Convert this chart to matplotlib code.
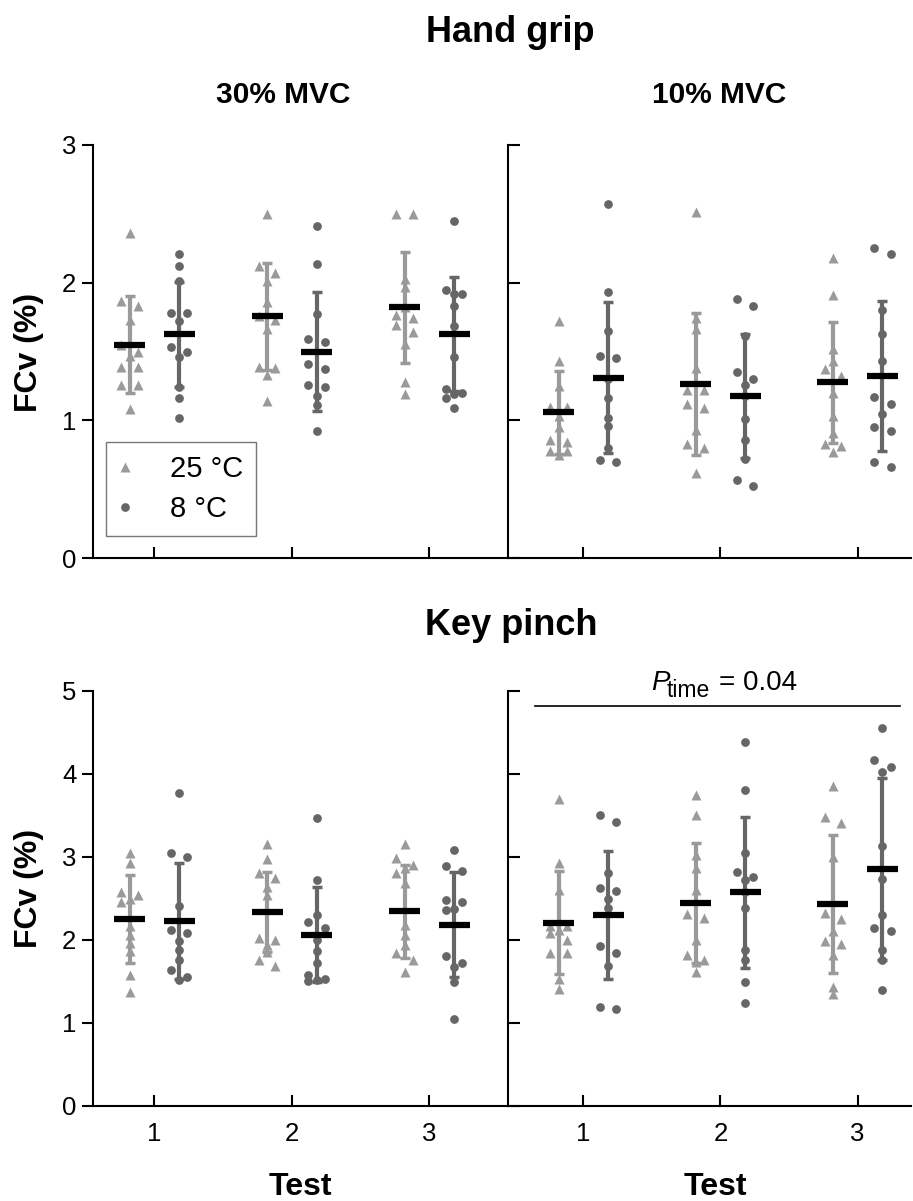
import matplotlib
matplotlib.use("Agg")
import matplotlib.pyplot as plt
from matplotlib.lines import Line2D
import numpy as np

plt.rcParams['font.family'] = ['Liberation Sans', 'DejaVu Sans']

# ---------------- data ----------------
tests = [1, 2, 3]
tick_labels = ['1', '2', '3']
series_labels = ['25 °C', '8 °C']

# Hand grip, 30% MVC
hg30_25 = [[2.36, 1.87, 1.83, 1.73, 1.55, 1.50, 1.47, 1.39, 1.39, 1.26, 1.26, 1.08],
           [2.50, 2.12, 2.07, 2.01, 1.86, 1.76, 1.73, 1.66, 1.39, 1.38, 1.33, 1.14],
           [2.50, 2.50, 2.03, 1.97, 1.82, 1.765, 1.745, 1.69, 1.64, 1.555, 1.28, 1.19]]
hg30_8 = [[2.21, 2.12, 2.01, 1.78, 1.78, 1.72, 1.53, 1.50, 1.46, 1.24, 1.16, 1.02],
          [2.41, 2.135, 1.77, 1.59, 1.57, 1.41, 1.37, 1.26, 1.24, 1.18, 1.11, 0.92],
          [2.45, 1.95, 1.92, 1.915, 1.83, 1.685, 1.46, 1.23, 1.20, 1.19, 1.16, 1.09]]
hg30_25_mean = [1.55, 1.755, 1.82]
hg30_25_sd = [0.355, 0.39, 0.405]
hg30_8_mean = [1.625, 1.50, 1.627]
hg30_8_sd = [0.38, 0.43, 0.415]

# Hand grip, 10% MVC
hg10_25 = [[1.72, 1.43, 1.25, 1.10, 1.10, 1.03, 0.95, 0.86, 0.845, 0.78, 0.78, 0.75],
           [2.51, 1.74, 1.66, 1.38, 1.22, 1.22, 1.12, 1.09, 0.93, 0.83, 0.80, 0.615],
           [2.18, 1.91, 1.52, 1.43, 1.37, 1.32, 1.20, 1.03, 0.91, 0.83, 0.81, 0.77]]
hg10_8 = [[2.57, 1.93, 1.65, 1.47, 1.45, 1.30, 1.16, 1.02, 0.96, 0.80, 0.71, 0.70],
          [1.88, 1.83, 1.61, 1.35, 1.30, 1.26, 1.18, 1.01, 0.86, 0.72, 0.57, 0.52],
          [2.25, 2.21, 1.80, 1.63, 1.43, 1.17, 1.12, 1.045, 0.95, 0.92, 0.70, 0.66]]
hg10_25_mean = [1.058, 1.264, 1.276]
hg10_25_sd = [0.30, 0.515, 0.44]
hg10_8_mean = [1.31, 1.176, 1.32]
hg10_8_sd = [0.55, 0.45, 0.545]

# Key pinch, 30% MVC
kp30_25 = [[3.05, 2.93, 2.57, 2.54, 2.49, 2.46, 2.16, 2.06, 1.96, 1.86, 1.57, 1.37],
           [3.15, 2.97, 2.80, 2.74, 2.64, 2.54, 2.02, 2.00, 1.94, 1.85, 1.76, 1.68],
           [3.15, 2.98, 2.90, 2.86, 2.80, 2.68, 2.18, 2.06, 1.94, 1.84, 1.76, 1.61]]
kp30_8 = [[3.77, 3.04, 3.00, 2.41, 2.12, 2.08, 1.98, 1.88, 1.755, 1.63, 1.555, 1.51],
          [3.47, 2.72, 2.30, 2.21, 2.14, 2.00, 1.86, 1.72, 1.57, 1.53, 1.51, 1.50],
          [3.08, 2.89, 2.83, 2.48, 2.45, 2.37, 2.36, 1.80, 1.72, 1.67, 1.49, 1.04]]
kp30_25_mean = [2.245, 2.33, 2.345]
kp30_25_sd = [0.53, 0.48, 0.56]
kp30_8_mean = [2.23, 2.06, 2.18]
kp30_8_sd = [0.70, 0.57, 0.635]

# Key pinch, 10% MVC
kp10_25 = [[3.69, 2.92, 2.60, 2.16, 2.16, 2.12, 2.08, 2.00, 1.84, 1.84, 1.53, 1.41],
           [3.74, 3.50, 3.02, 2.86, 2.60, 2.31, 2.26, 2.00, 1.82, 1.76, 1.73, 1.61],
           [3.85, 3.48, 3.41, 3.00, 2.32, 2.25, 2.11, 1.98, 1.95, 1.82, 1.43, 1.34]]
kp10_8 = [[3.50, 3.42, 2.80, 2.62, 2.59, 2.49, 2.38, 1.92, 1.84, 1.68, 1.19, 1.17],
          [4.38, 3.80, 3.04, 2.81, 2.75, 2.72, 2.57, 2.38, 1.88, 1.755, 1.49, 1.24],
          [4.55, 4.16, 4.08, 4.02, 3.13, 2.73, 2.30, 2.14, 2.10, 1.88, 1.755, 1.39]]
kp10_25_mean = [2.205, 2.445, 2.43]
kp10_25_sd = [0.62, 0.72, 0.83]
kp10_8_mean = [2.30, 2.57, 2.85]
kp10_8_sd = [0.77, 0.91, 1.10]

p_parts = ['P', 'time', '= 0.04']

# ---------------- style ----------------
W, H = 913, 1201
DPI = 100
C25 = '#9a9a9a'
C8 = '#666666'

fig = plt.figure(figsize=(W / DPI, H / DPI), dpi=DPI)


def frac_rect(x0, x1, ytop, ybot):
    return [x0 / W, 1 - ybot / H, (x1 - x0) / W, (ybot - ytop) / H]


ax_tl = fig.add_axes(frac_rect(93, 508, 145, 558))
ax_tr = fig.add_axes(frac_rect(508, 911, 145, 558))
ax_bl = fig.add_axes(frac_rect(93, 508, 690.7, 1105.7))
ax_br = fig.add_axes(frac_rect(508, 911, 690.7, 1105.7))

XL_LEFT = (0.554, 3.572)
XL_RIGHT = (0.45, 3.39)


def swarm_offsets(vals, px_per_unit, thr=7.0):
    order = np.argsort(vals)[::-1]
    sv = np.asarray(vals)[order]
    offs = np.zeros(len(vals))
    clusters = []
    cur = [0]
    for i in range(1, len(sv)):
        if (sv[i - 1] - sv[i]) * px_per_unit < thr:
            cur.append(i)
        else:
            clusters.append(cur)
            cur = [i]
    clusters.append(cur)
    pattern = [-1, 1, 0]
    for cl in clusters:
        if len(cl) == 1:
            offs[order[cl[0]]] = 0
        else:
            for k, idx in enumerate(cl):
                offs[order[idx]] = pattern[k % 3]
    return offs


def draw_panel(ax, d25, d8, m25, s25, m8, s8, ylim, xlim, left):
    ax.set_xlim(*xlim)
    ax.set_ylim(*ylim)
    bb = ax.get_position()
    hpx = bb.height * H
    wpx = bb.width * W
    ppu_y = hpx / (ylim[1] - ylim[0])
    ppu_x = wpx / (xlim[1] - xlim[0])
    sep = 24.7 / ppu_x
    step = 8.3 / ppu_x
    half = 15.5 / ppu_x
    for i, t in enumerate(tests):
        for vals, mean, sd, col, mk, ms, sgn in (
                (d25[i], m25[i], s25[i], C25, '^', 6.5, -1),
                (d8[i], m8[i], s8[i], C8, 'o', 6.3, 1)):
            xc = t + sgn * sep
            ax.errorbar([xc], [mean], yerr=[sd], fmt='none', ecolor=col,
                        elinewidth=3.0, capsize=3.5, capthick=2.5, zorder=2)
            offs = swarm_offsets(vals, ppu_y)
            ax.plot(xc + offs * step, vals, linestyle='none', marker=mk,
                    ms=ms, color=col, mec='none', zorder=3, clip_on=False)
            ax.hlines(mean, xc - half, xc + half, color='black', lw=4.5, zorder=4)
    ax.set_xticks(tests)
    for side in ('top', 'right'):
        ax.spines[side].set_visible(False)
    for side in ('left', 'bottom'):
        ax.spines[side].set_linewidth(1.5)
    ax.tick_params(axis='x', direction='in', length=8, width=1.5, labelsize=18.5, pad=12)
    if left:
        ax.tick_params(axis='y', direction='out', length=8, width=1.5, labelsize=18.5, pad=4)
    else:
        ax.tick_params(axis='y', direction='in', length=8.5, width=1.5, labelleft=False)


draw_panel(ax_tl, hg30_25, hg30_8, hg30_25_mean, hg30_25_sd, hg30_8_mean, hg30_8_sd,
           (0, 3), XL_LEFT, True)
draw_panel(ax_tr, hg10_25, hg10_8, hg10_25_mean, hg10_25_sd, hg10_8_mean, hg10_8_sd,
           (0, 3), XL_RIGHT, False)
draw_panel(ax_bl, kp30_25, kp30_8, kp30_25_mean, kp30_25_sd, kp30_8_mean, kp30_8_sd,
           (0, 5), XL_LEFT, True)
draw_panel(ax_br, kp10_25, kp10_8, kp10_25_mean, kp10_25_sd, kp10_8_mean, kp10_8_sd,
           (0, 5), XL_RIGHT, False)

for ax in (ax_tl, ax_tr):
    ax.set_yticks([0, 1, 2, 3])
    ax.tick_params(axis='x', labelbottom=False)
for ax in (ax_bl, ax_br):
    ax.set_yticks([0, 1, 2, 3, 4, 5])
    ax.set_xticklabels(tick_labels)

# legend
handles = [Line2D([], [], ls='none', marker='^', ms=6.5, color=C25, mec='none'),
           Line2D([], [], ls='none', marker='o', ms=6.3, color=C8, mec='none')]
leg = ax_tl.legend(handles, series_labels, loc='lower left',
                   bbox_to_anchor=(0.031, 0.053), borderaxespad=0, fontsize=21,
                   frameon=True, fancybox=False, borderpad=0.45, handlelength=0.4,
                   handletextpad=1.35, labelspacing=0.42, numpoints=1)
leg.get_frame().set_edgecolor('#555555')
leg.get_frame().set_linewidth(1.0)

# significance line and text in key pinch 10% panel
ax_br.plot([0.647, 3.31], [4.82, 4.82], color='black', lw=1.2, clip_on=False)


def ftext(xpx, ypx, s, **kw):
    return fig.text(xpx / W, 1 - ypx / H, s, **kw)


ftext(651, 690, p_parts[0], ha='left', va='baseline', fontsize=20, fontstyle='italic')
ftext(667, 697, p_parts[1], ha='left', va='baseline', fontsize=16.5)
ftext(719, 690, p_parts[2], ha='left', va='baseline', fontsize=20)

# titles and labels
ftext(510, 41.7, 'Hand grip', ha='center', va='baseline', fontsize=26, fontweight='bold')
ftext(283, 103, '30% MVC', ha='center', va='baseline', fontsize=21.5, fontweight='bold')
ftext(719, 103, '10% MVC', ha='center', va='baseline', fontsize=21.5, fontweight='bold')
ftext(511, 635, 'Key pinch', ha='center', va='baseline', fontsize=26, fontweight='bold')
ftext(300, 1195, 'Test', ha='center', va='baseline', fontsize=23, fontweight='bold')
ftext(715, 1195, 'Test', ha='center', va='baseline', fontsize=23, fontweight='bold')
ftext(29, 352, 'FCv (%)', ha='center', va='center', rotation=90, fontsize=23, fontweight='bold')
ftext(29, 888, 'FCv (%)', ha='center', va='center', rotation=90, fontsize=23, fontweight='bold')

fig.savefig('out.png', dpi=DPI)
